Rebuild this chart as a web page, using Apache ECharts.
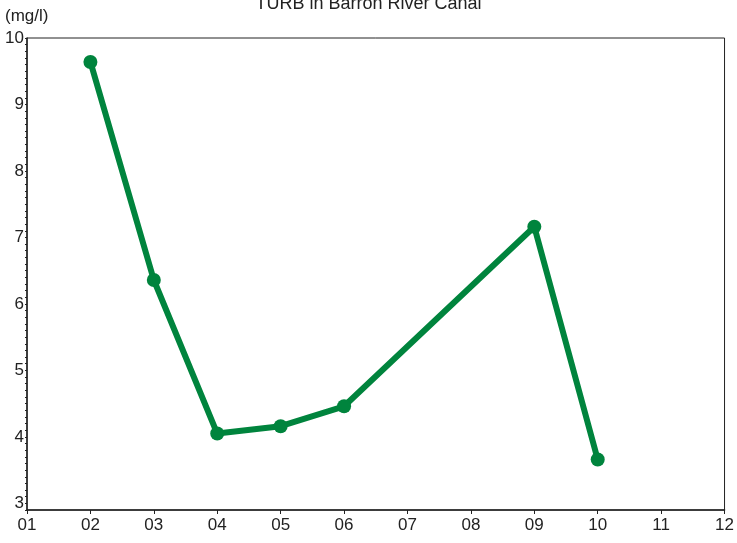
<!DOCTYPE html>
<html><head><meta charset="utf-8">
<script src="https://cdn.jsdelivr.net/npm/echarts@6/dist/echarts.min.js"></script>
<style>html,body{margin:0;padding:0;background:#fff}#c{width:737px;height:543px}</style>
</head><body><div id="c"></div>
<script>
const months = [2, 3, 4, 5, 6, 9, 10];
const turb = [9.64, 6.36, 4.05, 4.16, 4.46, 7.16, 3.66];
const xTicks = ['01','02','03','04','05','06','07','08','09','10','11','12'];
const yLabels = [3, 4, 5, 6, 7, 8, 9, 10];

const chart = echarts.init(document.getElementById('c'));
const font = 'Liberation Sans, Arial, sans-serif';
chart.setOption({
  animation: false,
  title: { text: 'TURB in Barron River Canal', left: 'center', top: -10,
    textStyle: { fontSize: 18, fontWeight: 'normal', color: '#222', fontFamily: font } },
  graphic: [{ type: 'text', left: 5, top: 8,
    style: { text: '(mg/l)', fill: '#222', fontSize: 17, fontFamily: font } }],
  grid: { left: 27, right: 11, top: 38, bottom: 33, show: true, borderColor: '#222', borderWidth: 1 },
  xAxis: {
    type: 'value', min: 1, max: 12, interval: 1,
    axisLine: { lineStyle: { color: '#222', width: 1.5 } },
    axisTick: { show: true, length: 4, lineStyle: { color: '#222' } },
    axisLabel: { color: '#222', fontSize: 17, fontFamily: font, margin: 7,
      formatter: v => xTicks[Math.round(v) - 1] },
    splitLine: { show: false }
  },
  yAxis: {
    type: 'value', min: 2.9, max: 10, interval: 0.1,
    axisLine: { show: true, lineStyle: { color: '#222', width: 1.5 } },
    axisTick: { show: true, length: 2, lineStyle: { color: '#222' } },
    axisLabel: { color: '#222', fontSize: 17, fontFamily: font, margin: 3, showMinLabel: true, showMaxLabel: true,
      formatter: v => { const r = Math.round(v); return (Math.abs(v - r) < 1e-6 && yLabels.includes(r)) ? String(r) : ''; } },
    splitLine: { show: false }
  },
  series: [{
    type: 'line',
    data: months.map((m, i) => [m, turb[i]]),
    symbol: 'circle', symbolSize: 14,
    lineStyle: { color: '#00843D', width: 6 },
    itemStyle: { color: '#00843D' }
  }]
});
</script></body></html>
